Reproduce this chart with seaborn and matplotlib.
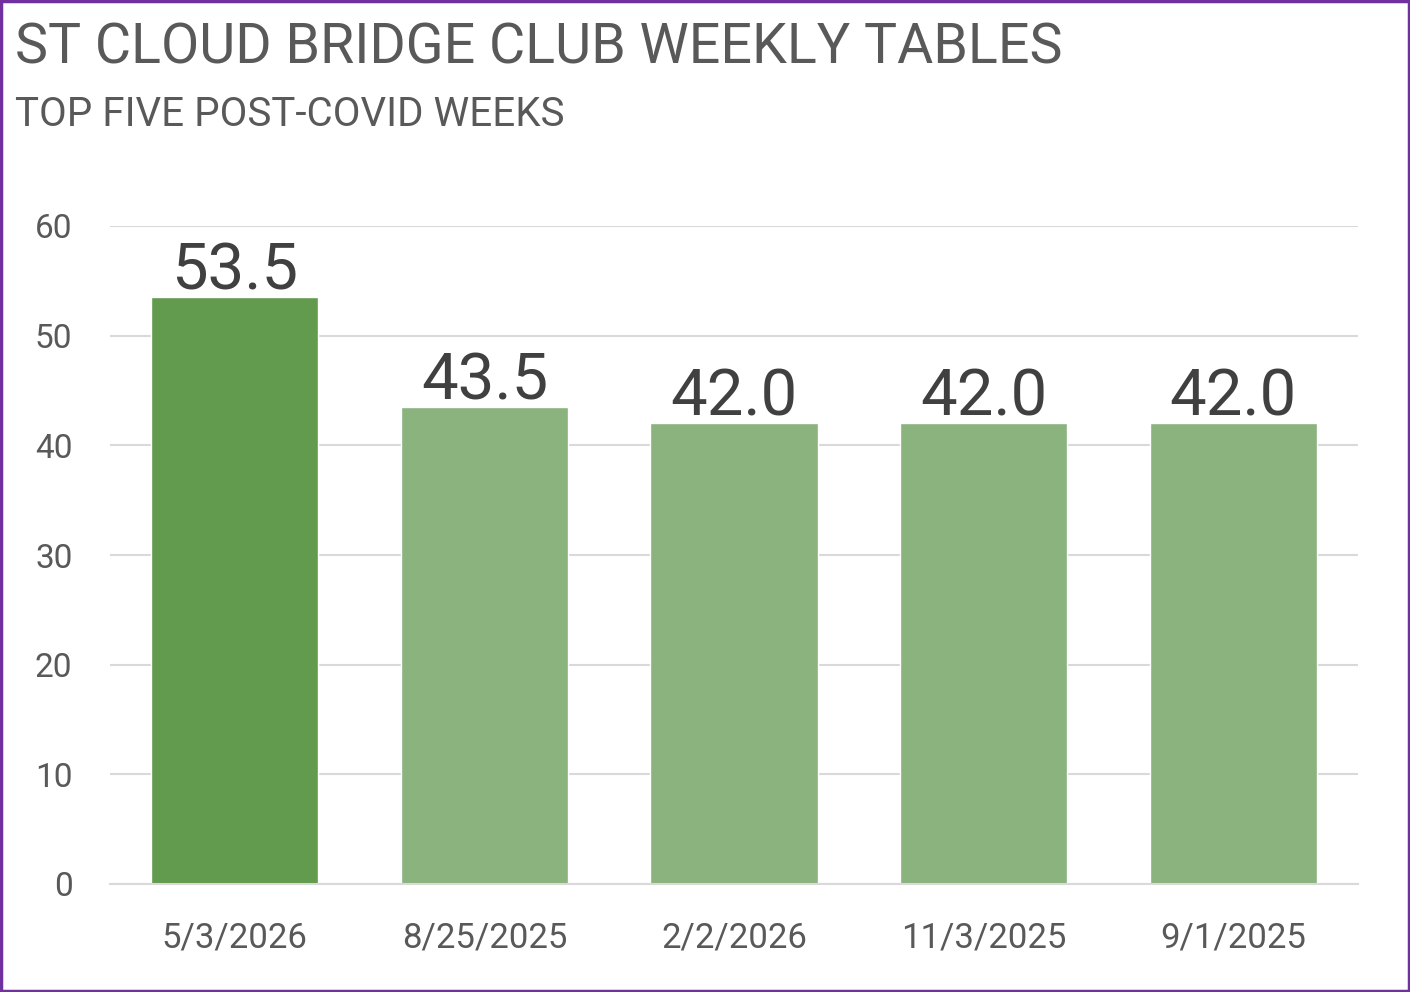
import matplotlib
matplotlib.use("Agg")
import matplotlib.pyplot as plt
import seaborn as sns
from matplotlib.patches import Rectangle

weeks = ["5/3/2026", "8/25/2025", "2/2/2026", "11/3/2025", "9/1/2025"]
tables = [53.5, 43.5, 42.0, 42.0, 42.0]
bar_colors = ["#629A4E", "#8AB37E", "#8AB37E", "#8AB37E", "#8AB37E"]

sns.set_style("white")
plt.rcParams["font.family"] = ["Roboto", "DejaVu Sans"]

fig = plt.figure(figsize=(14.1, 9.92), dpi=100)
ax = fig.add_axes([110 / 1410, 108 / 992, 1248 / 1410, 658 / 992])

sns.barplot(x=weeks, y=tables, hue=weeks, palette=bar_colors, legend=False,
            width=0.67, saturation=1, ax=ax)

ax.set_ylim(0, 60)
ax.set_xlim(-0.5, len(weeks) - 0.5)
ax.set_yticks(range(0, 61, 10))
ax.yaxis.grid(True, color="#D9D9D9", lw=1.5)
ax.set_axisbelow(True)
for s in ["top", "right", "left"]:
    ax.spines[s].set_visible(False)
ax.spines["bottom"].set_color("#D9D9D9")
ax.spines["bottom"].set_linewidth(1.5)

ax.tick_params(axis="y", length=0, pad=27, labelsize=24, labelcolor="#595959")
ax.tick_params(axis="x", which="major", length=0, pad=27, labelsize=25, labelcolor="#595959")
ax.set_xticks([i - 0.5 for i in range(len(weeks) + 1)], minor=True)
ax.tick_params(axis="x", which="minor", length=10, width=1.5, color="#D9D9D9")

for c in ax.containers:
    ax.bar_label(c, fmt="%.1f", fontsize=47, color="#404040", padding=-4)

fig.text(15 / 1410, 1 - 48 / 992, "ST CLOUD BRIDGE CLUB WEEKLY TABLES",
         fontsize=40, color="#595959", va="center", ha="left")
fig.text(15 / 1410, 1 - 114 / 992, "TOP FIVE POST-COVID WEEKS",
         fontsize=29, color="#595959", va="center", ha="left")

fig.patches.append(Rectangle((0.001, 0.0015), 0.998, 0.997, transform=fig.transFigure,
                             fill=False, edgecolor="#7030A0", lw=2.5))

fig.savefig("out.png", dpi=100)
